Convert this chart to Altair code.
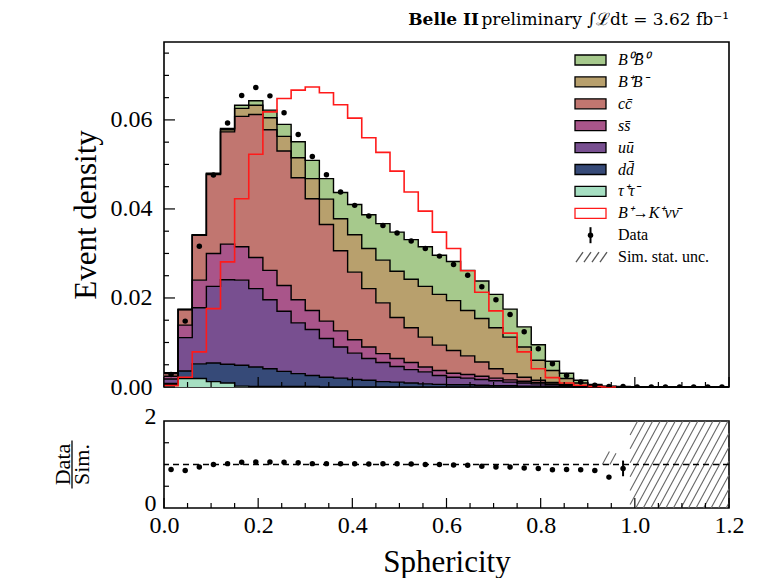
import altair as alt
import numpy as np
import pandas as pd

FONT = "Liberation Serif"
TFONT = "DejaVu Serif"
W, H, HR = 565, 345, 87
XMAX, YMAX = 1.2, 0.0775

# ---------------- data ----------------
BIN_W = 0.03
N_BINS = 40
edges = [round(i * BIN_W, 2) for i in range(N_BINS + 1)]

# stacked components, bottom -> top
tautau = [0.0005, 0.0019, 0.0019, 0.0012, 0.0009, 0.0002, 0.0001, 0.0001, 0.0001, 0.0001,
          0.0001, 0, 0, 0, 0, 0, 0, 0, 0, 0,
          0, 0, 0, 0, 0, 0, 0, 0, 0, 0,
          0, 0, 0, 0, 0, 0, 0, 0, 0, 0]
ddbar = [0.0003, 0.0017, 0.0033, 0.0042, 0.0042, 0.0047, 0.0044, 0.0040, 0.0034, 0.0029,
         0.0025, 0.0022, 0.0020, 0.0017, 0.0015, 0.0012, 0.0011, 0.0009, 0.0007, 0.0006,
         0.0005, 0.0005, 0.0004, 0.0003, 0.0003, 0.0002, 0.0002, 0.0001, 0.0001, 0,
         0, 0, 0, 0, 0, 0, 0, 0, 0, 0]
uubar = [0.0010, 0.0075, 0.0126, 0.0172, 0.0190, 0.0191, 0.0176, 0.0155, 0.0135, 0.0114,
         0.0103, 0.0087, 0.0070, 0.0059, 0.0049, 0.0043, 0.0035, 0.0030, 0.0027, 0.0020,
         0.0017, 0.0015, 0.0013, 0.0011, 0.0008, 0.0007, 0.0005, 0.0004, 0.0002, 0.0001,
         0, 0, 0, 0, 0, 0, 0, 0, 0, 0]
ssbar = [0.0006, 0.0028, 0.0062, 0.0074, 0.0080, 0.0075, 0.0070, 0.0066, 0.0058, 0.0052,
         0.0043, 0.0039, 0.0036, 0.0030, 0.0026, 0.0020, 0.0018, 0.0016, 0.0011, 0.0011,
         0.0009, 0.0008, 0.0007, 0.0006, 0.0005, 0.0004, 0.0003, 0.0002, 0.0001, 0.0001,
         0.0001, 0, 0, 0, 0, 0, 0, 0, 0, 0]
ccbar = [0.0006, 0.0035, 0.0101, 0.0177, 0.0252, 0.0293, 0.0321, 0.0316, 0.0302, 0.0274,
         0.0251, 0.0217, 0.0180, 0.0152, 0.0131, 0.0114, 0.0092, 0.0078, 0.0067, 0.0057,
         0.0051, 0.0042, 0.0032, 0.0021, 0.0014, 0.0009, 0.0005, 0.0003, 0.0002, 0.0001,
         0, 0, 0, 0, 0, 0, 0, 0, 0, 0]
bpbm = [0.0001, 0, 0, 0.0002, 0.0005, 0.0018, 0.0021, 0.0027, 0.0033, 0.0045,
        0.0045, 0.0057, 0.0072, 0.0084, 0.0090, 0.0096, 0.0104, 0.0109, 0.0114, 0.0114,
        0.0112, 0.0102, 0.0098, 0.0092, 0.0082, 0.0068, 0.0045, 0.0027, 0.0013, 0.0006,
        0.0003, 0.0001, 0, 0, 0, 0, 0, 0, 0, 0]
b0b0 = [0.0001, 0, 0.0001, 0.0001, 0.0003, 0.0007, 0.0010, 0.0017, 0.0027, 0.0036,
        0.0041, 0.0046, 0.0059, 0.0068, 0.0076, 0.0082, 0.0088, 0.0089, 0.0089, 0.0088,
        0.0088, 0.0090, 0.0084, 0.0075, 0.0063, 0.0045, 0.0035, 0.0021, 0.0012, 0.0006,
        0.0002, 0.0001, 0.0001, 0, 0, 0, 0, 0, 0, 0]

data_vals = [0.0028, 0.0148, 0.0316, 0.0476, 0.0593, 0.0655, 0.0673, 0.0654, 0.0616, 0.0567,
             0.0518, 0.0477, 0.0438, 0.0408, 0.0384, 0.0363, 0.0346, 0.0328, 0.0311, 0.0294,
             0.0275, 0.0251, 0.0225, 0.0196, 0.0163, 0.0124, 0.0086, 0.0052, 0.0026, 0.0011,
             0.0004, 0.0001, 0.0001, 0, 0, 0, 0, 0, 0, 0]

signal = [0.0003, 0.0022, 0.0079, 0.0176, 0.0281, 0.0423, 0.0523, 0.0618, 0.0648, 0.0667,
          0.0674, 0.0661, 0.0634, 0.0604, 0.0560, 0.0527, 0.0485, 0.0438, 0.0395, 0.0348,
          0.0311, 0.0261, 0.0213, 0.0171, 0.0121, 0.0079, 0.0041, 0.0021, 0.0009, 0.0004,
          0.0001, 0, 0]

ratio = [0.885, 0.86, 0.94, 1.0, 1.02, 1.05, 1.06, 1.06, 1.05, 1.04,
         1.02, 1.02, 1.015, 1.015, 1.01, 1.015, 1.015, 1.01, 1.0, 1.0,
         0.99, 0.985, 0.96, 0.94, 0.94, 0.92, 0.91, 0.88, 0.885, 0.88,
         0.86, 0.71, 0.91]
ratio_err = [0.02, 0.01, 0.01, 0.01, 0.01, 0.01, 0.01, 0.01, 0.01, 0.01,
             0.01, 0.01, 0.01, 0.01, 0.01, 0.01, 0.01, 0.01, 0.01, 0.01,
             0.01, 0.01, 0.01, 0.01, 0.01, 0.01, 0.01, 0.02, 0.02, 0.03,
             0.04, 0.05, 0.18]

comp_names = ["tautau", "dd", "uu", "ss", "cc", "BpBm", "B0B0"]
comp_values = [tautau, ddbar, uubar, ssbar, ccbar, bpbm, b0b0]
comp_colors = ["#a6dfc2", "#364a78", "#784f90", "#a9558a", "#c17670", "#b8a06d", "#a6c98c"]

legend_labels = ["B⁰B̄⁰", "B⁺B⁻", "cc̄", "ss̄", "uū", "dd̄", "τ⁺τ⁻", "B⁺→K⁺νν̄", "Data", "Sim. stat. unc."]
legend_fill = ["#a6c98c", "#b8a06d", "#c17670", "#a9558a", "#784f90", "#364a78", "#a6dfc2", "#ffffff"]
legend_stroke = ["black"] * 7 + ["#ff1a1a"]

y_major = [0, 0.02, 0.04, 0.06]
x_major = [0, 0.2, 0.4, 0.6, 0.8, 1.0, 1.2]

# ---------------- helpers ----------------
def px_x(p):
    return p / W * XMAX


def px_y(p):
    return YMAX * (1 - p / H)


xs_main = alt.Scale(domain=[0, XMAX], nice=False, zero=False)
ys_main = alt.Scale(domain=[0, YMAX], nice=False)
ys_ratio = alt.Scale(domain=[0, 2], nice=False)
ONE = alt.Data(values=[{}])

# stacked table
rows = []
cum = np.zeros(N_BINS)
for name, vals in zip(comp_names, comp_values):
    lo = cum.copy()
    hi = cum + np.array(vals, dtype=float)
    for k in range(N_BINS + 1):
        j = min(k, N_BINS - 1)
        rows.append(dict(comp=name, x=edges[k], lo=lo[j], hi=hi[j]))
    cum = hi
stack_df = pd.DataFrame(rows)

areas = alt.Chart(stack_df).mark_area(interpolate="step-after").encode(
    x=alt.X("x:Q", scale=xs_main, axis=None),
    y=alt.Y("hi:Q", scale=ys_main,
            axis=alt.Axis(values=y_major, format=".2f", title="Event density",
                          titleFont=FONT, labelFont=FONT,
                          titleFontSize=31, labelFontSize=24, labelPadding=12,
                          titlePadding=8, titleFontWeight="normal", ticks=False,
                          tickSize=0, domain=False, grid=False)),
    y2="lo:Q",
    color=alt.Color("comp:N", scale=alt.Scale(domain=comp_names, range=comp_colors), legend=None),
)
outlines = alt.Chart(stack_df).mark_line(interpolate="step-after", color="black", strokeWidth=1.4).encode(
    x="x:Q", y="hi:Q", detail="comp:N"
)

sig_df = pd.DataFrame({"x": edges[:len(signal)], "y": signal})
sig_line = alt.Chart(sig_df).mark_line(interpolate="step-after", color="#ff1a1a", strokeWidth=1.6).encode(
    x="x:Q", y="y:Q"
)

centers = [round(e + BIN_W / 2, 3) for e in edges[:-1]]
pts_df = pd.DataFrame({"x": centers, "y": data_vals})
pts = alt.Chart(pts_df).mark_circle(size=30, color="black", opacity=1, clip=True).encode(
    x="x:Q", y="y:Q"
)

# inward ticks (main)
y_minor = [round(0.005 * i, 3) for i in range(16) if i % 4]
x_minor = [round(0.05 * i, 2) for i in range(25) if i % 4]


def yticks(vals, length):
    return alt.Chart(pd.DataFrame({"v": vals})).mark_rule(color="black", strokeWidth=1.2).encode(
        y="v:Q", x=alt.value(0), x2=alt.value(length)
    )


def xticks(vals, length, h):
    return alt.Chart(pd.DataFrame({"v": vals})).mark_rule(color="black", strokeWidth=1.2).encode(
        x="v:Q", y=alt.value(h), y2=alt.value(h - length)
    )


main_ticks = [yticks(y_major, 11), yticks(y_minor, 5), xticks(x_major, 10, H), xticks(x_minor, 5, H)]

# legend
LX0, LX1, LTX, LY0, LDY = 411, 442, 454, 18, 21.9
leg_rows = []
for i in range(8):
    yc = LY0 + LDY * i
    leg_rows.append(dict(x0=px_x(LX0), x1=px_x(LX1), y0=px_y(yc - 5), y1=px_y(yc + 5),
                         fill=legend_fill[i], stroke=legend_stroke[i]))
leg_box = alt.Chart(pd.DataFrame(leg_rows)).mark_rect(strokeWidth=1.3).encode(
    x="x0:Q", x2="x1:Q", y="y0:Q", y2="y1:Q",
    fill=alt.Fill("fill:N", scale=None), stroke=alt.Stroke("stroke:N", scale=None)
)
txt_rows = [dict(x=px_x(LTX), y=px_y(LY0 + LDY * i), label=legend_labels[i], italic=i < 8)
            for i in range(10)]
txt_df = pd.DataFrame(txt_rows)
leg_txt_it = alt.Chart(txt_df[txt_df.italic]).mark_text(
    align="left", baseline="middle", font=FONT, fontSize=16, fontStyle="italic", color="black"
).encode(x="x:Q", y="y:Q", text="label:N")
leg_txt_rm = alt.Chart(txt_df[~txt_df.italic]).mark_text(
    align="left", baseline="middle", font=FONT, fontSize=16, color="black"
).encode(x="x:Q", y="y:Q", text="label:N")

yd = LY0 + LDY * 8
leg_dot = alt.Chart(pd.DataFrame({"x": [px_x((LX0 + LX1) / 2)], "y": [px_y(yd)]})).mark_circle(
    size=30, color="black", opacity=1).encode(x="x:Q", y="y:Q")
leg_bar = alt.Chart(pd.DataFrame({"x": [px_x((LX0 + LX1) / 2)], "y": [px_y(yd - 8)], "y2": [px_y(yd + 8)]})).mark_rule(
    color="black", strokeWidth=2).encode(x="x:Q", y="y:Q", y2="y2:Q")
yh = LY0 + LDY * 9
hatch_leg = pd.DataFrame({
    "x": [px_x(LX0 + 1 + 8 * j) for j in range(4)],
    "x2": [px_x(LX0 + 8 + 8 * j) for j in range(4)],
    "y": [px_y(yh + 5)] * 4,
    "y2": [px_y(yh - 5)] * 4,
})
leg_hatch = alt.Chart(hatch_leg).mark_rule(color="#555555", strokeWidth=1.3).encode(
    x="x:Q", x2="x2:Q", y="y:Q", y2="y2:Q")

title_b = alt.Chart(ONE).mark_text(align="right", baseline="alphabetic", font=TFONT, fontSize=17,
                                   fontWeight="bold", color="black").encode(
    x=alt.value(W - 250), y=alt.value(-17), text=alt.value("Belle II"))
title_r = alt.Chart(ONE).mark_text(align="right", baseline="alphabetic", font=TFONT, fontSize=17,
                                   color="black").encode(
    x=alt.value(W), y=alt.value(-17), text=alt.value("preliminary ∫ℒdt = 3.62 fb⁻¹"))

main = alt.layer(areas, outlines, sig_line, pts, *main_ticks, leg_box, leg_txt_it, leg_txt_rm,
                 leg_dot, leg_bar, leg_hatch, title_b, title_r).properties(width=W, height=H)

# ---------------- ratio panel ----------------
r_df = pd.DataFrame({"x": centers[:len(ratio)], "r": ratio,
                     "lo": [a - b for a, b in zip(ratio, ratio_err)],
                     "hi": [a + b for a, b in zip(ratio, ratio_err)]})
r_pts = alt.Chart(r_df).mark_circle(size=30, color="black", opacity=1).encode(
    x=alt.X("x:Q", scale=xs_main,
            axis=alt.Axis(values=x_major, format=".1f", title="Sphericity", titleFontSize=31,
                          titleFont=FONT, labelFont=FONT,
                          labelFontSize=24, labelPadding=5, titlePadding=10, titleFontWeight="normal",
                          ticks=False, tickSize=0, domain=False, grid=False, labelFlush=False,
                          labelOverlap=False)),
    y=alt.Y("r:Q", scale=ys_ratio,
            axis=alt.Axis(values=[0, 2], format=".0f", title=None, labelFontSize=24,
                          labelFont=FONT, labelOffset=-5,
                          labelPadding=8, ticks=False, tickSize=0, domain=False, grid=False)),
)
r_err = alt.Chart(r_df).mark_rule(color="black", strokeWidth=2).encode(
    x="x:Q", y="lo:Q", y2="hi:Q")
one_line = alt.Chart(pd.DataFrame({"y": [1]})).mark_rule(
    color="black", strokeDash=[6, 4], strokeWidth=1.3).encode(y="y:Q")

# hatched regions: simulation uncertainty (bin 31 region) and no-simulation region
hatch_x0 = [0.93, 0.99]
hatch_x1 = [0.96, 1.2]
hatch_y0 = [1.0, 0.0]
hatch_y1 = [1.3, 2.0]
K = 0.05      # x-shift per unit of ratio (slope of hatch lines)
STEP = 0.016  # spacing between hatch lines
segs = []
for x0, x1, y0, y1 in zip(hatch_x0, hatch_x1, hatch_y0, hatch_y1):
    s = x0 - K * y1
    while s <= x1:
        ya = max(y0, (x0 - s) / K)
        yb = min(y1, (x1 - s) / K)
        if yb > ya:
            segs.append(dict(x=s + K * ya, y=ya, x2=s + K * yb, y2=yb))
        s += STEP
hatch = alt.Chart(pd.DataFrame(segs)).mark_rule(color="#666666", strokeWidth=1.1).encode(
    x="x:Q", x2="x2:Q", y="y:Q", y2="y2:Q")

r_ticks = [
    alt.Chart(pd.DataFrame({"v": [0.5, 1.5]})).mark_rule(color="black", strokeWidth=1.2).encode(
        y="v:Q", x=alt.value(0), x2=alt.value(5)),
    xticks(x_major, 10, HR), xticks(x_minor, 5, HR),
]

frac_data = alt.Chart(ONE).mark_text(font=FONT, fontSize=22, angle=270, align="center",
                                     baseline="middle", color="black").encode(
    x=alt.value(-101), y=alt.value(HR / 2), text=alt.value("Data"))
frac_sim = alt.Chart(ONE).mark_text(font=FONT, fontSize=22, angle=270, align="center",
                                    baseline="middle", color="black").encode(
    x=alt.value(-82), y=alt.value(HR / 2), text=alt.value("Sim."))
frac_bar = alt.Chart(ONE).mark_rule(color="black", strokeWidth=1.3).encode(
    x=alt.value(-92), y=alt.value(HR / 2 - 24), y2=alt.value(HR / 2 + 24))

ratio_panel = alt.layer(r_pts, hatch, one_line, r_err, *r_ticks, frac_data, frac_sim, frac_bar).properties(
    width=W, height=HR)

chart = alt.vconcat(main, ratio_panel, spacing=3).properties(
    padding={"left": 43, "top": 2, "right": 5, "bottom": 0},
    background="white",
).configure_view(stroke="black", strokeWidth=1.6).configure_axis(
    labelFont=FONT, titleFont=FONT, labelColor="black", titleColor="black"
)

chart.save("out.html", embed_options={"renderer": "svg", "actions": False})
